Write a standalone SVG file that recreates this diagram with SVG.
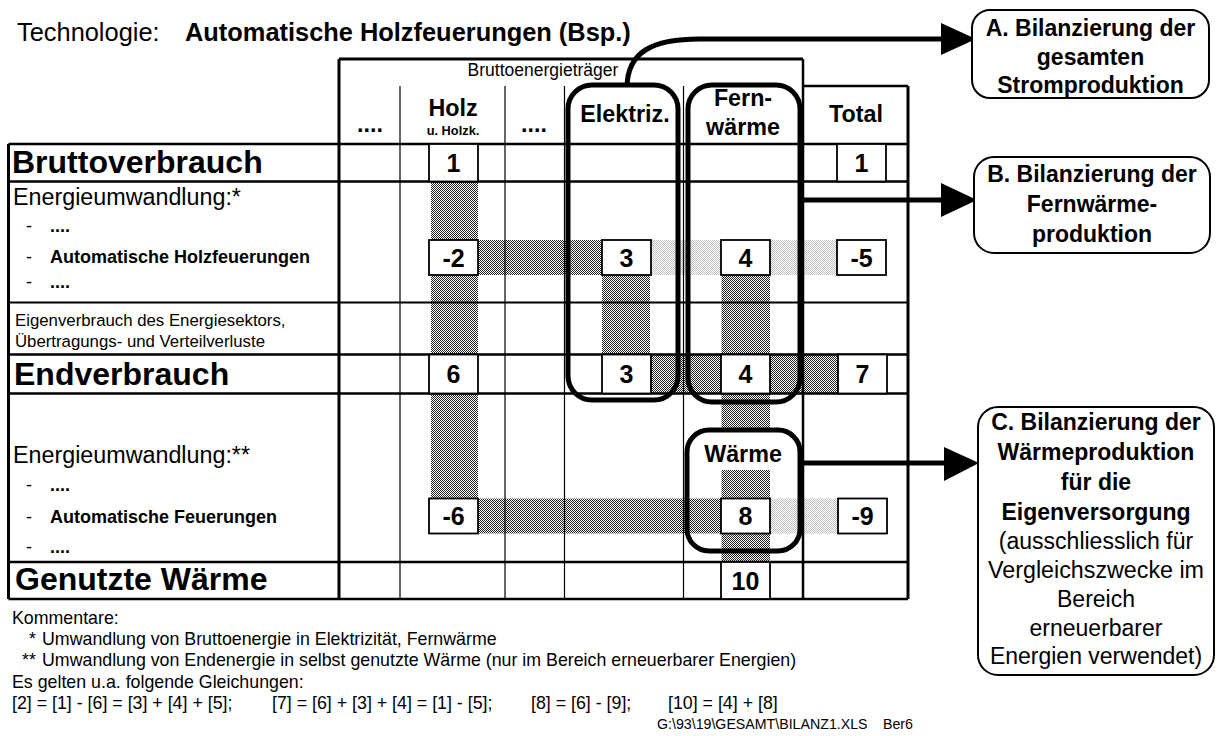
<svg xmlns="http://www.w3.org/2000/svg" width="1218" height="736" viewBox="0 0 1218 736">
<style>
text{font-family:"Liberation Sans",Arial,sans-serif;fill:#000}
.b{font-weight:bold}
.big{font-size:32px;font-weight:bold}
.lab{font-size:23.3px}
.sub{font-size:18px}
.sm{font-size:16.8px}
.hd{font-size:23.3px;font-weight:bold;text-anchor:middle}
.num{font-size:25px;font-weight:bold;text-anchor:middle}
.box{font-size:23px;text-anchor:middle}
.cm{font-size:17.8px}
.th{stroke:#000;stroke-width:3;fill:none}
.md{stroke:#000;stroke-width:2.5;fill:none}
.tn{stroke:#000;stroke-width:1.2;fill:none}
.cell{fill:#fff;stroke:#000;stroke-width:1.8}
.rr{fill:none;stroke:#000;stroke-width:5}
.note{fill:#fff;stroke:#000;stroke-width:2}
.con{stroke:#000;stroke-width:5;fill:none}
</style>
<defs>
<pattern id="dk" width="2" height="2" patternUnits="userSpaceOnUse"><rect width="2" height="2" fill="#fff"/><rect width="1" height="1" fill="#222"/><rect x="1" y="1" width="1" height="1" fill="#222"/></pattern>
<pattern id="lt" width="2" height="2" patternUnits="userSpaceOnUse"><rect width="2" height="2" fill="#fff"/><rect width="1" height="1" fill="#c0c0c0"/><rect x="1" y="1" width="1" height="1" fill="#c0c0c0"/></pattern>
</defs>
<rect width="1218" height="736" fill="#fff"/>

<g id="title">
<text x="17" y="41" style="font-size:25.4px">Technologie:</text>
<text x="185" y="41" class="b" style="font-size:25.4px">Automatische Holzfeuerungen (Bsp.)</text>
</g>

<g id="shading">
<rect x="431" y="181.5" width="47" height="317" fill="url(#dk)"/>
<rect x="478" y="240" width="124" height="35" fill="url(#dk)"/>
<rect x="602" y="275" width="48" height="80" fill="url(#dk)"/>
<rect x="650" y="354.5" width="190" height="39" fill="url(#dk)"/>
<rect x="721.5" y="275" width="48.5" height="155" fill="url(#dk)"/>
<rect x="721.5" y="470" width="48.5" height="92" fill="url(#dk)"/>
<rect x="478" y="498.5" width="243" height="35" fill="url(#dk)"/>
<rect x="651" y="240" width="186" height="35" fill="url(#lt)"/>
<rect x="770" y="498.5" width="68" height="35" fill="url(#lt)"/>
</g>

<g id="grid">
<path class="tn" d="M400,86V599M505,86V599M564.5,86V599M683.5,86V599"/>
<path class="th" d="M8.5,144V599M339,59V599M339,59H803M908,86V599"/>
<path class="md" d="M803,59V599M803,86H908"/>
<path class="md" d="M8.5,144H908M8.5,181.5H908M8.5,354.5H908M8.5,393.5H908M8.5,562H908M8.5,599H908"/>
<path class="tn" style="stroke-width:2" d="M8.5,302.5H908"/>
</g>

<g id="header">
<text x="543" y="76" text-anchor="middle" style="font-size:17.5px">Bruttoenergieträger</text>
<text x="370" y="132" class="hd">....</text>
<text x="453" y="116" class="hd">Holz</text>
<text x="453" y="135" class="b" text-anchor="middle" style="font-size:12.8px">u. Holzk.</text>
<text x="534" y="132" class="hd">....</text>
<text x="625" y="122" class="hd">Elektriz.</text>
<text x="743" y="106" class="hd">Fern-</text>
<text x="743" y="135" class="hd">wärme</text>
<text x="856" y="122" class="hd">Total</text>
</g>

<g id="row-labels">
<text x="12" y="173" class="big">Bruttoverbrauch</text>
<text x="13" y="205" class="lab">Energieumwandlung:*</text>
<text x="26" y="232" class="sub">-</text><text x="50" y="232" class="sub b">....</text>
<text x="26" y="263" class="sub">-</text><text x="50" y="263" class="sub b">Automatische Holzfeuerungen</text>
<text x="26" y="288" class="sub">-</text><text x="50" y="288" class="sub b">....</text>
<text x="15" y="326" class="sm">Eigenverbrauch des Energiesektors,</text>
<text x="15" y="347" class="sm">Übertragungs- und Verteilverluste</text>
<text x="14" y="385" class="big">Endverbrauch</text>
<text x="13" y="463" class="lab">Energieumwandlung:**</text>
<text x="26" y="491" class="sub">-</text><text x="50" y="491" class="sub b">....</text>
<text x="26" y="523" class="sub">-</text><text x="50" y="523" class="sub b">Automatische Feuerungen</text>
<text x="26" y="553" class="sub">-</text><text x="50" y="553" class="sub b">....</text>
<text x="15" y="590" class="big">Genutzte Wärme</text>
</g>

<g id="cells">
<g id="c-brutto-holz"><rect class="cell" x="429" y="144" width="49" height="37.5"/><text x="453.5" y="172" class="num">1</text></g>
<g id="c-brutto-total"><rect class="cell" x="837" y="144" width="49" height="37.5"/><text x="861.5" y="172" class="num">1</text></g>
<g id="c-umw-holz"><rect class="cell" x="429" y="240" width="49" height="35"/><text x="453.5" y="266.5" class="num">-2</text></g>
<g id="c-umw-elek"><rect class="cell" x="602" y="240" width="49" height="35"/><text x="626.5" y="266.5" class="num">3</text></g>
<g id="c-umw-fern"><rect class="cell" x="721" y="240" width="49" height="35"/><text x="745.5" y="266.5" class="num">4</text></g>
<g id="c-umw-total"><rect class="cell" x="837" y="240" width="49" height="35"/><text x="861.5" y="266.5" class="num">-5</text></g>
<g id="c-end-holz"><rect class="cell" x="429" y="354.5" width="49" height="39"/><text x="453.5" y="383" class="num">6</text></g>
<g id="c-end-elek"><rect class="cell" x="602" y="354.5" width="49" height="39"/><text x="626.5" y="383" class="num">3</text></g>
<g id="c-end-fern"><rect class="cell" x="721" y="354.5" width="49" height="39"/><text x="745.5" y="383" class="num">4</text></g>
<g id="c-end-total"><rect class="cell" x="838" y="354.5" width="49" height="39"/><text x="862.5" y="383" class="num">7</text></g>
<g id="c-umw2-holz"><rect class="cell" x="429" y="498.5" width="49" height="35"/><text x="453.5" y="525" class="num">-6</text></g>
<g id="c-umw2-waerme"><rect class="cell" x="721" y="498.5" width="49" height="35"/><text x="745.5" y="525" class="num">8</text></g>
<g id="c-umw2-total"><rect class="cell" x="838" y="498.5" width="49" height="35"/><text x="862.5" y="525" class="num">-9</text></g>
<g id="c-genutzt"><rect class="cell" x="721" y="562" width="49" height="37"/><text x="745.5" y="589.5" class="num">10</text></g>
</g>

<g id="rr-elektriz"><rect class="rr" x="568" y="85" width="110" height="315" rx="24"/></g>
<g id="rr-fernwaerme"><rect class="rr" x="688" y="85" width="112" height="317" rx="24"/></g>
<g id="rr-waerme"><rect class="rr" x="687" y="430" width="113" height="121" rx="22"/><text x="743" y="462" class="hd">Wärme</text></g>

<g id="connectors">
<path class="con" d="M627,86C628,52 652,39 700,39L944,39"/>
<polygon points="941,23 976,39 941,55"/>
<path class="con" d="M800,200H944"/>
<polygon points="941,183 977,200 941,217"/>
<path class="con" d="M800,463H946"/>
<polygon points="944,447 979,463 944,481"/>
</g>

<g id="box-A">
<rect class="note" x="972" y="10" width="237" height="88" rx="18"/>
<text x="1090.5" y="36" class="box b">A. Bilanzierung der</text>
<text x="1090.5" y="65" class="box b">gesamten</text>
<text x="1090.5" y="93" class="box b">Stromproduktion</text>
</g>
<g id="box-B">
<rect class="note" x="974" y="157" width="236" height="96" rx="20"/>
<text x="1092" y="182" class="box b">B. Bilanzierung der</text>
<text x="1092" y="212" class="box b">Fernwärme-</text>
<text x="1092" y="242" class="box b">produktion</text>
</g>
<g id="box-C">
<rect class="note" x="978" y="407" width="236" height="268" rx="20"/>
<text x="1096" y="430" class="box b">C. Bilanzierung der</text>
<text x="1096" y="460" class="box b">Wärmeproduktion</text>
<text x="1096" y="490" class="box b">für die</text>
<text x="1096" y="520" class="box b">Eigenversorgung</text>
<text x="1096" y="549" class="box">(ausschliesslich für</text>
<text x="1096" y="578" class="box" textLength="216" lengthAdjust="spacingAndGlyphs">Vergleichszwecke im</text>
<text x="1096" y="607" class="box">Bereich</text>
<text x="1096" y="636" class="box">erneuerbarer</text>
<text x="1096" y="664" class="box">Energien verwendet)</text>
</g>

<g id="comments">
<text x="12" y="624" class="cm">Kommentare:</text>
<text x="29" y="645" class="cm">*</text><text x="42" y="645" class="cm">Umwandlung von Bruttoenergie in Elektrizität, Fernwärme</text>
<text x="22" y="666" class="cm">**</text><text x="42" y="666" class="cm">Umwandlung von Endenergie in selbst genutzte Wärme (nur im Bereich erneuerbarer Energien)</text>
<text x="12" y="688" class="cm">Es gelten u.a. folgende Gleichungen:</text>
<text x="12" y="709" class="cm">[2] = [1] - [6] = [3] + [4] + [5];</text>
<text x="272" y="709" class="cm">[7] = [6] + [3] + [4] = [1] - [5];</text>
<text x="531" y="709" class="cm">[8] = [6] - [9];</text>
<text x="668" y="709" class="cm">[10] = [4] + [8]</text>
<text x="657" y="729" style="font-size:14.2px">G:\93\19\GESAMT\BILANZ1.XLS</text>
<text x="883" y="729" style="font-size:14.2px">Ber6</text>
</g>
</svg>
